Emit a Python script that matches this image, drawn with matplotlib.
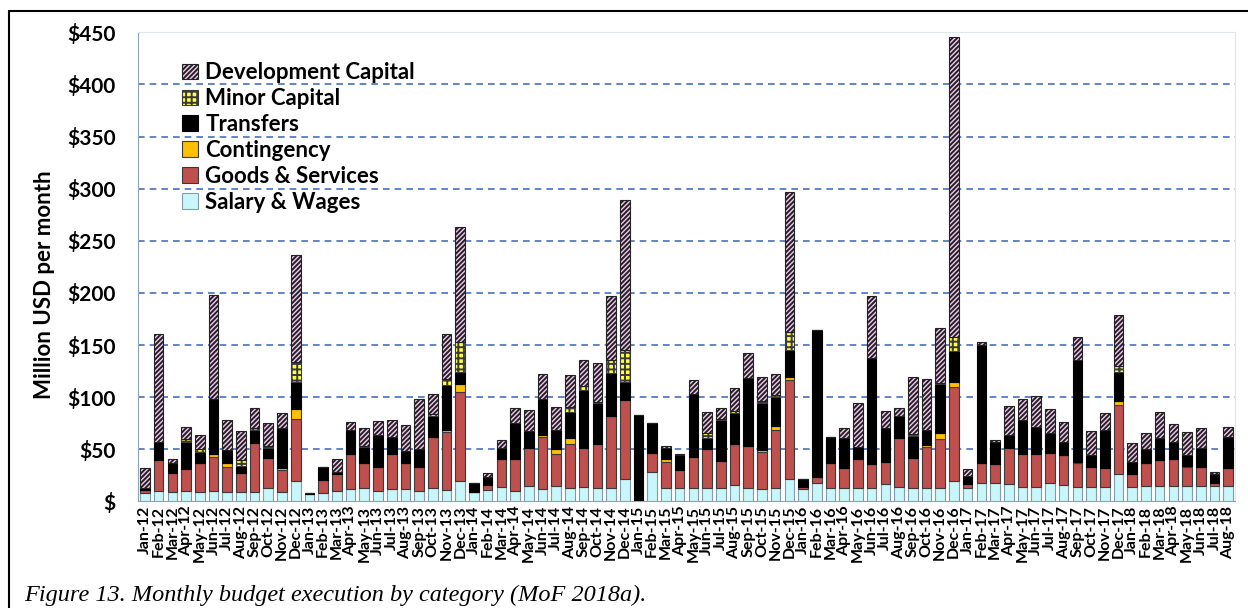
import numpy as np
import matplotlib.pyplot as plt
from matplotlib.patches import Rectangle, Patch

months = ['Jan', 'Feb', 'Mar', 'Apr', 'May', 'Jun', 'Jul', 'Aug', 'Sep', 'Oct', 'Nov', 'Dec']
labels = ['%s-%d' % (m, y) for y in range(12, 19) for m in months][:80]

# million USD per month
salary = [8, 10, 9, 10, 9, 10, 9, 9, 9.5, 12.5, 9, 19.5,
          7.5, 8.5, 10.5, 11.5, 12.5, 10.5, 11.5, 11.5, 10.5, 12.5, 11, 20,
          9.5, 11, 13.5, 10.5, 15, 12, 15, 12.5, 14, 12.5, 12.5, 22,
          0, 28.5, 12.5, 13, 12.5, 12.5, 12.5, 16, 12.5, 11.5, 12.5, 22,
          11.5, 18, 13, 12.5, 12.5, 12.5, 16.5, 14, 12.5, 12.5, 12.5, 19.5,
          12.5, 18, 17.5, 17, 13.5, 14, 17.5, 16, 13.5, 14, 13.5, 26.5,
          13.5, 15, 15, 15, 15, 15, 15, 15]
goods = [3, 30, 18, 21, 28, 33, 24.5, 18, 47, 29, 21, 60,
         0, 12, 16, 34, 24, 22.5, 34.5, 25, 23, 49.5, 56, 85,
         0, 5, 27, 30, 36, 49.5, 30.5, 42.5, 37, 42.5, 69.5, 75,
         0, 18, 25.5, 17.5, 30, 37.5, 26.5, 39, 40.5, 36, 56.5, 94.5,
         2.5, 5, 24, 20, 28, 23.5, 21.5, 46.5, 29, 39.5, 47, 90,
         4, 18.5, 18.5, 34, 32, 32, 29, 28.5, 23, 19, 18.5, 66,
         13, 21.5, 25, 26, 18, 18.5, 2.5, 17]
contingency = [0, 0, 0, 0, 0, 2.5, 3, 0, 0, 0, 2, 9.5,
               0, 0, 0, 0, 0, 0, 0, 0, 0, 0, 2, 7.5,
               0, 0, 0, 0, 0, 2, 4.5, 5.5, 0, 0, 0, 0,
               0, 0, 3, 0, 0, 0, 0, 0, 0, 1.5, 3, 2.5,
               0, 0, 0, 0, 0, 0, 0, 0, 0, 2.5, 6, 5.5,
               0, 0, 0, 0, 0, 0, 0, 0, 1.5, 0, 0, 4,
               0, 0, 0, 0, 1, 0, 0, 0]
transfers = [1.5, 17, 10, 26.5, 10.5, 52.5, 13, 7, 12.5, 9.5, 38, 26,
             1, 13, 2, 23.5, 16, 31, 15.5, 12, 16.5, 19.5, 43, 12,
             8.5, 7, 10.5, 34.5, 17, 34.5, 18.5, 25.5, 56, 39, 41.5, 18,
             83, 28.5, 10, 14, 60.5, 10.5, 39, 30, 65, 45.5, 28, 26,
             7.5, 141, 24.5, 28, 11.5, 102, 32, 21, 21.5, 14, 47, 29.5,
             8, 113.5, 21.5, 13, 32.5, 25, 19.5, 13, 97.5, 12, 37, 28,
             11, 13.5, 21, 16.5, 11, 17.5, 9, 29.5]
minor = [0, 0, 0, 2, 3, 0, 0, 6, 1.5, 2, 0, 19,
         0, 0, 0, 0, 1, 0, 0, 0, 0, 2, 5, 28,
         0, 0, 0, 0, 0, 0, 0, 5, 4, 1.5, 12, 30,
         0, 0, 0, 0, 0, 5, 1.5, 2, 0, 1.5, 2, 18,
         0, 0, 0, 0, 0, 0, 0, 0, 2, 0, 1.5, 13,
         0, 0, 0, 0, 0, 0, 0, 0, 0, 0, 0, 5.5,
         0, 0, 0, 0, 0, 0, 0, 0]
development = [19.5, 104, 4, 12, 13, 100, 28.5, 28, 19.5, 22.5, 14.5, 102,
               0, 0, 12, 7, 16.5, 13.5, 16.5, 25, 48, 20, 44, 110.5,
               0, 4.5, 7.5, 15, 20, 24, 22.5, 30, 24.5, 37, 61.5, 144,
               0, 0, 2, 1.5, 13.5, 20, 10.5, 22, 24.5, 23.5, 20, 134,
               0, 0, 0.5, 9.5, 42.5, 59, 17, 8, 54, 48.5, 52, 288,
               6.5, 2.5, 1, 28, 20, 30, 22.5, 19, 22, 23, 16, 49,
               18.5, 16, 25, 16.5, 22, 19, 2, 10]

plt.rcParams['font.family'] = ['Lato', 'DejaVu Sans']
plt.rcParams['hatch.linewidth'] = 1.4

fig = plt.figure(figsize=(12.48, 6.08), dpi=100)
ax = fig.add_axes([0.1106, 0.1752, 0.879, 0.7718])

x = np.arange(len(labels))
w = 0.7
series = [
    (salary, 'Salary & Wages', '#C9F6FA', None, '#7F9CB0'),
    (goods, 'Goods & Services', '#C0504D', None, '#3A3A3A'),
    (contingency, 'Contingency', '#FFC000', None, '#3A3A3A'),
    (transfers, 'Transfers', '#000000', None, '#000000'),
    (minor, 'Minor Capital', '#FFFF40', '+++', '#3A3A3A'),
    (development, 'Development Capital', '#F2C6F0', '///////', '#222222'),
]
bottom = np.zeros(len(labels))
handles = []
for vals, name, col, hatch, ec in series:
    v = np.array(vals, dtype=float)
    ax.bar(x, v, w, bottom=bottom, color=col, edgecolor=ec, linewidth=0.8, hatch=hatch, zorder=3)
    bottom += v
    handles.append(Patch(facecolor=col, edgecolor=ec, hatch=hatch, linewidth=0.8, label=name))

ax.set_xlim(-0.5, len(labels) - 0.5)
ax.set_ylim(0, 450)
ax.set_yticks(np.arange(0, 451, 50))
ax.set_yticklabels(['$'] + ['$%d' % v for v in range(50, 451, 50)], fontsize=15, fontweight='bold')
ax.set_xticks(x)
ax.set_xticklabels(labels, rotation=90, fontsize=11.5, fontweight='bold')
ax.tick_params(axis='y', length=0, pad=16)
ax.tick_params(axis='x', length=0, pad=3)
for yv in range(50, 401, 50):
    ax.axhline(yv, color='#4472C4', lw=1.2, dashes=(4, 3), zorder=1)

ax.spines['left'].set_color('#8EA2B8')
ax.spines['bottom'].set_color('#8EA2B8')
ax.spines['top'].set_color('#DCE8EE')
ax.spines['right'].set_color('#DCE8EE')

ax.set_ylabel('Million USD per month', fontsize=16, fontweight='bold')
ax.yaxis.set_label_coords(-0.076, 0.461)

leg = ax.legend(handles=handles[::-1], loc='upper left', bbox_to_anchor=(0.032, 0.955),
                frameon=False, fontsize=16, handlelength=0.7, handleheight=0.7,
                handletextpad=0.35, labelspacing=0.22, borderaxespad=0)
for t in leg.get_texts():
    t.set_fontweight('bold')

fig.patches.append(Rectangle((9 / 1248, -0.01), 1.0, 1 - 11 / 608 + 0.01,
                             transform=fig.transFigure, fill=False, edgecolor='black', lw=1.5))
fig.text(24 / 1248, 1 - 595 / 608, 'Figure 13. Monthly budget execution by category (MoF 2018a).',
         family=['Liberation Serif', 'DejaVu Serif'], style='italic', fontsize=17.5, va='center', ha='left')

fig.savefig('out.png', dpi=100)
